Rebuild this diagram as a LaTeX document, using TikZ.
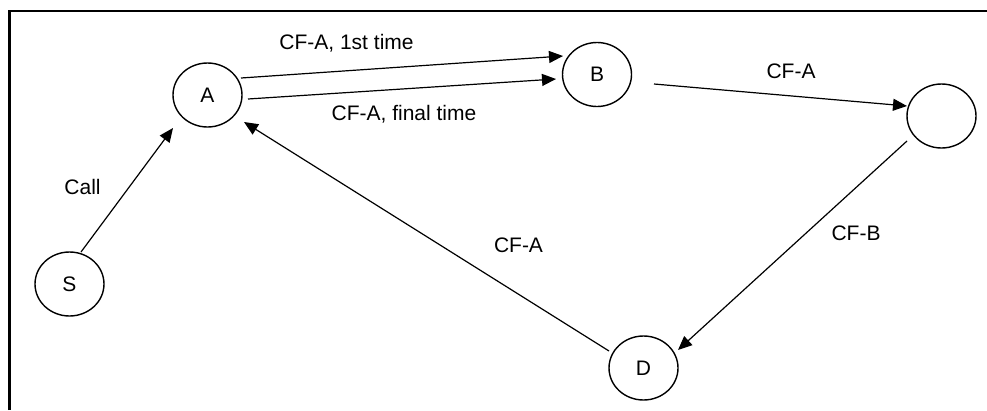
\documentclass[tikz,border=0pt]{standalone}
\usepackage{fontspec}
\setmainfont{Liberation Sans}
\usetikzlibrary{shapes.geometric,arrows.meta,calc}
\begin{document}
\begin{tikzpicture}[x=1pt,y=-1pt,
  state/.style={draw, ellipse, line width=1.4pt, minimum width=69pt, minimum height=64pt, inner sep=0pt, font=\fontsize{21}{25}\selectfont},
  lbl/.style={inner sep=0pt, font=\fontsize{21}{25}\selectfont},
  conn/.style={line width=1.2pt, -{Triangle[length=14pt,width=12pt]}},
  frameline/.style={line width=2.6pt}]
\useasboundingbox (0,0) rectangle (987,410);
\coordinate (fb) at (9.7,410);
\coordinate (fc) at (9.7,11);
\coordinate (fr) at (987,11);
\draw[frameline] (fb) -- (fc) -- (fr);

\node[state] (A) at (207.5,95) {A};
\node[state] (B) at (597,74.5) {B};
\node[state] (C) at (941.5,116) {};
\node[state] (D) at (643.5,368) {D};
\node[state] (S) at (69.5,284) {S};

\draw[conn] ($(S)+(11.5,-32)$) -- ($(A)+(-34.5,33)$);
\draw[conn] ($(A)+(33.5,-17)$) -- ($(B)+(-34,-18.5)$);
\draw[conn] ($(A)+(40.5,4)$) -- ($(B)+(-41,4.5)$);
\draw[conn] ($(B)+(57,9.5)$) -- ($(C)+(-34.5,-10)$);
\draw[conn] ($(C)+(-34.5,25)$) -- ($(D)+(34.5,-18)$);
\draw[conn] ($(D)+(-34.5,-17)$) -- ($(A)+(36.5,27)$);

\node[lbl] (l1) at (346.5,43) {CF-A, 1st time};
\node[lbl] (l2) at (404,114) {CF-A, final time};
\node[lbl] (l3) at (791,71) {CF-A};
\node[lbl] (l4) at (518.5,245) {CF-A};
\node[lbl] (l5) at (856,233) {CF-B};
\node[lbl] (l6) at (82.5,187) {Call};
\end{tikzpicture}
\end{document}
